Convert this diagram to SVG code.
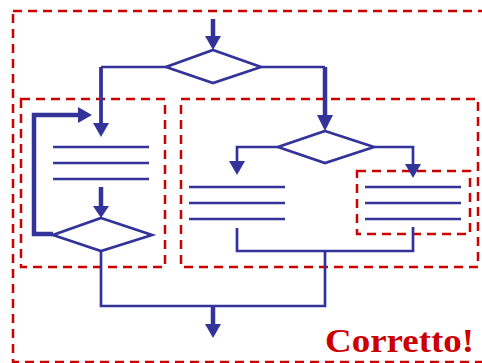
<svg xmlns="http://www.w3.org/2000/svg" width="482" height="363" viewBox="0 0 482 363">
<style>
.frame{fill:none;stroke:#cc0000;stroke-width:2.5;stroke-dasharray:9 6}
.ln{fill:none;stroke:#333399;stroke-width:2.7}
.thick{fill:none;stroke:#333399;stroke-width:4.5}
.shape{fill:#ffffff;stroke:#333399;stroke-width:2.7}
.ah{fill:#333399}
.lbl{font-family:"Liberation Serif",serif;font-weight:bold;font-size:33px;fill:#cc0000}
</style>
<rect width="482" height="363" fill="#ffffff"/>
<g id="frames">
<rect class="frame" x="13" y="11" width="480" height="351"/>
<rect class="frame" x="21" y="99" width="144" height="168"/>
<rect class="frame" x="181" y="99" width="297" height="168"/>
<rect class="frame" x="357" y="171" width="113" height="63"/>
</g>
<g id="connectors">
<line class="thick" x1="213" y1="19" x2="213" y2="38"/>
<polygon class="ah" points="205,36 221,36 213,50"/>
<polyline class="ln" points="166,67 101,67"/>
<line class="ln" x1="101" y1="67" x2="101" y2="125" style="stroke-width:3.8"/>
<polygon class="ah" points="93,123 109,123 101,137"/>
<polyline class="ln" points="261,67 325,67"/>
<line class="thick" x1="325" y1="67" x2="325" y2="117"/>
<polygon class="ah" points="317,115 333,115 325,131"/>
<polyline class="ln" points="278,147 237,147 237,163"/>
<polygon class="ah" points="229,161 245,161 237,175"/>
<polyline class="ln" points="374,147 413,147 413,166"/>
<polygon class="ah" points="405,164 421,164 413,178"/>
<polyline class="thick" points="53,234 34,234 34,115 80,115"/>
<polygon class="ah" points="78,107 78,123 92,115"/>
<line class="thick" x1="101" y1="187" x2="101" y2="208"/>
<polygon class="ah" points="93,206 109,206 101,218"/>
<polyline class="ln" points="101,251 101,306 325,306 325,251"/>
<polyline class="ln" points="237,228 237,251 413,251 413,227"/>
<line class="thick" x1="213" y1="306" x2="213" y2="326"/>
<polygon class="ah" points="205,324 221,324 213,338"/>
</g>
<g id="decision1">
<polygon class="shape" points="213,50 261,67 213,83 166,67"/>
</g>
<g id="decision2">
<polygon class="shape" points="325,131 374,147 325,163 278,147"/>
</g>
<g id="decision3">
<polygon class="shape" points="101,218 152,235 101,251 53,235"/>
</g>
<g id="block1">
<line class="ln" x1="53" y1="147" x2="149" y2="147"/>
<line class="ln" x1="53" y1="163" x2="149" y2="163"/>
<line class="ln" x1="53" y1="179" x2="149" y2="179"/>
</g>
<g id="block2">
<line class="ln" x1="189" y1="187" x2="285" y2="187"/>
<line class="ln" x1="189" y1="203" x2="285" y2="203"/>
<line class="ln" x1="189" y1="219" x2="285" y2="219"/>
</g>
<g id="block3">
<line class="ln" x1="365" y1="187" x2="461" y2="187"/>
<line class="ln" x1="365" y1="203" x2="461" y2="203"/>
<line class="ln" x1="365" y1="219" x2="461" y2="219"/>
</g>
<text class="lbl" x="325" y="352" textLength="149" lengthAdjust="spacingAndGlyphs">Corretto!</text>
</svg>
